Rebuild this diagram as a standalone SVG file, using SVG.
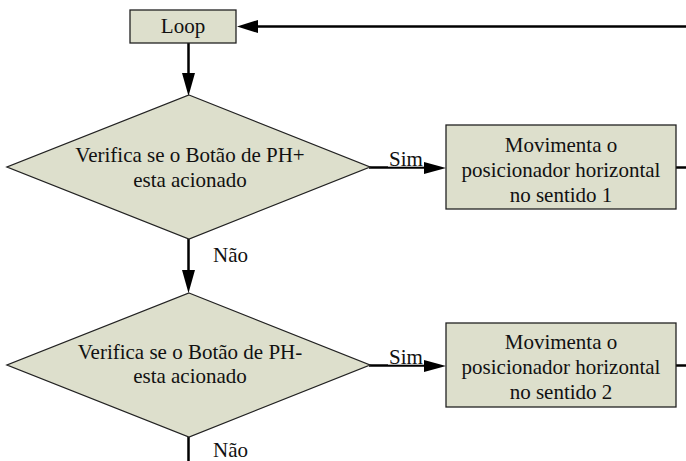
<svg xmlns="http://www.w3.org/2000/svg" width="686" height="461" viewBox="0 0 686 461" font-family="'Liberation Serif', 'Times New Roman', 'DejaVu Serif', serif">
  <style>
    .shape { fill: #dddfcc; stroke: #222; stroke-width: 1.3; }
    .label { font-size: 21px; fill: #111; text-anchor: middle; }
    .edge-label { font-size: 21px; fill: #111; }
    .wire { fill: none; stroke: #000; stroke-width: 2.5; }
    .head { fill: #000; }
  </style>
  <rect width="686" height="461" fill="#fff"/>

  <!-- connectors -->
  <g id="connectors">
    <!-- return path into Loop -->
    <line class="wire" x1="686" y1="26.5" x2="256" y2="26.5"/>
    <polygon class="head" points="237,26.5 258,20 258,33"/>
    <!-- Loop to first decision -->
    <line class="wire" x1="188.5" y1="43" x2="188.5" y2="74"/>
    <polygon class="head" points="188.5,96 182,73 195,73"/>
    <!-- first decision: Sim -->
    <line class="wire" x1="369" y1="167.5" x2="426" y2="167.5"/>
    <polygon class="head" points="446,168 424,162 424,174"/>
    <rect x="388" y="150" width="36" height="16.6" fill="#fff"/>
    <text class="edge-label" x="389" y="165.5" font-family="'Liberation Serif', 'DejaVu Serif', serif">Sim</text>
    <!-- first decision: Não -->
    <line class="wire" x1="188.5" y1="239" x2="188.5" y2="271"/>
    <polygon class="head" points="188.5,293 182,270 195,270"/>
    <text class="edge-label" x="213" y="262" font-family="'Liberation Serif', 'DejaVu Serif', serif">Não</text>
    <!-- first action exit -->
    <line class="wire" x1="676" y1="167.5" x2="686" y2="167.5"/>
    <!-- second decision: Sim -->
    <line class="wire" x1="369" y1="365.5" x2="426" y2="365.5"/>
    <polygon class="head" points="446,366 424,360 424,372"/>
    <rect x="388" y="348" width="36" height="16.6" fill="#fff"/>
    <text class="edge-label" x="389" y="363.5" font-family="'Liberation Serif', 'DejaVu Serif', serif">Sim</text>
    <!-- second decision: Não -->
    <line class="wire" x1="188.5" y1="437" x2="188.5" y2="461"/>
    <text class="edge-label" x="213" y="457" font-family="'Liberation Serif', 'DejaVu Serif', serif">Não</text>
    <!-- second action exit -->
    <line class="wire" x1="676" y1="365.5" x2="686" y2="365.5"/>
  </g>

  <g id="loop" font-family="'Liberation Serif', 'DejaVu Serif', serif">
    <rect class="shape" x="130" y="10" width="106" height="33"/>
    <text class="label" x="183" y="33" font-size="19.5">Loop</text>
  </g>

  <g id="check-ph-plus" font-family="'Liberation Serif', 'DejaVu Serif', serif">
    <polygon class="shape" points="189,95 370,167 189,239 7,167"/>
    <text class="label" x="190" y="162">Verifica se o Botão de PH+</text>
    <text class="label" x="190" y="187">esta acionado</text>
  </g>

  <g id="move-dir-1" font-family="'Liberation Serif', 'DejaVu Serif', serif">
    <rect class="shape" x="446" y="125" width="230" height="84"/>
    <text class="label" x="561" y="152">Movimenta o</text>
    <text class="label" x="561" y="177">posicionador horizontal</text>
    <text class="label" x="561" y="202">no sentido 1</text>
  </g>

  <g id="check-ph-minus" font-family="'Liberation Serif', 'DejaVu Serif', serif">
    <polygon class="shape" points="189,293 370,365 189,437 7,365"/>
    <text class="label" x="190" y="359">Verifica se o Botão de PH-</text>
    <text class="label" x="190" y="383">esta acionado</text>
  </g>

  <g id="move-dir-2" font-family="'Liberation Serif', 'DejaVu Serif', serif">
    <rect class="shape" x="446" y="323" width="230" height="84"/>
    <text class="label" x="561" y="349">Movimenta o</text>
    <text class="label" x="561" y="374">posicionador horizontal</text>
    <text class="label" x="561" y="399">no sentido 2</text>
  </g>
</svg>
